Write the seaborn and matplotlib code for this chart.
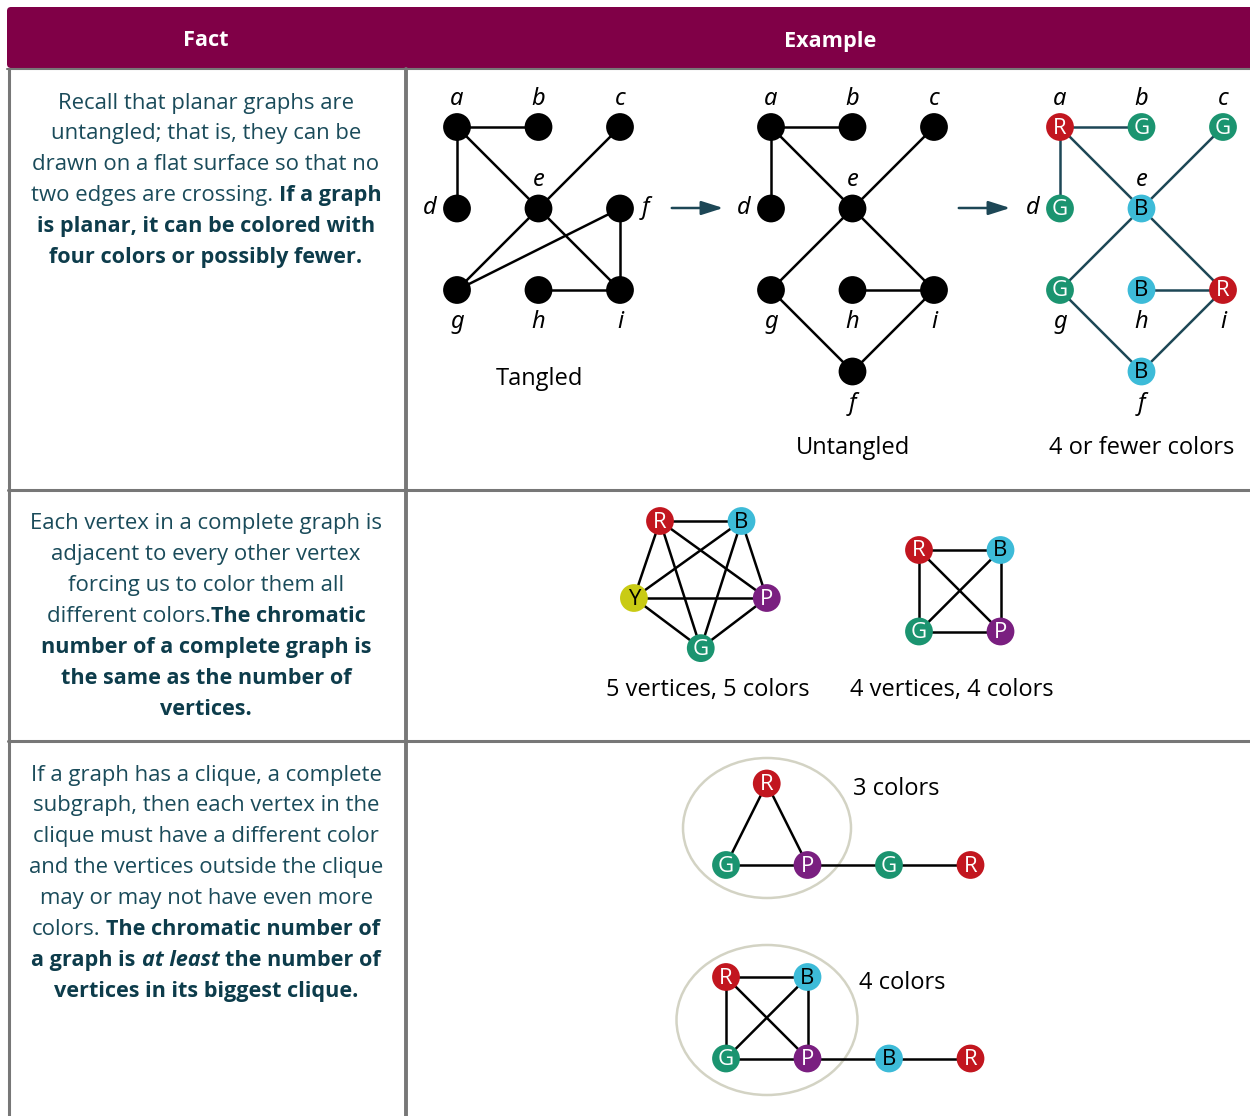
import pandas as pd
import matplotlib.pyplot as plt
import seaborn as sns
from matplotlib.offsetbox import TextArea, HPacker, AnnotationBbox, DrawingArea
from matplotlib.patches import Ellipse, FancyBboxPatch

sns.set_theme(style='white')
plt.rcParams['font.family'] = ['Open Sans', 'Noto Sans', 'DejaVu Sans']

# Kleuren van de knopen
node_colors = {'R': '#c2161f', 'G': '#1b9470', 'B': '#3dbbd8', 'P': '#7a1f80', 'Y': '#c9cb14'}
letter_colors = {'R': 'white', 'G': 'white', 'B': 'black', 'P': 'white', 'Y': 'black'}

# Graaf 1: tangled / untangled / gekleurd (eenheden in rastercellen)
g1_names = ['a', 'b', 'c', 'd', 'e', 'f', 'g', 'h', 'i']
g1_edges = [('a', 'b'), ('a', 'd'), ('a', 'e'), ('e', 'c'), ('e', 'g'),
            ('e', 'i'), ('g', 'f'), ('f', 'i'), ('h', 'i')]
tangled_col = [0, 1, 2, 0, 1, 2, 0, 1, 2]
tangled_row = [0, 0, 0, 1, 1, 1, 2, 2, 2]
untangled_col = [0, 1, 2, 0, 1, 1, 0, 1, 2]
untangled_row = [0, 0, 0, 1, 1, 3, 2, 2, 2]
g1_colors = ['R', 'G', 'G', 'G', 'B', 'B', 'G', 'B', 'R']

# Volledige grafen
k5_colors = ['R', 'B', 'P', 'G', 'Y']
k5_col = [0, 1, 1.31, 0.5, -0.32]
k5_row = [0, 0, 0.945, 1.56, 0.945]
k4_colors = ['R', 'B', 'G', 'P']
k4_col = [0, 1, 0, 1]
k4_row = [0, 0, 1, 1]

# Kliek-voorbeelden
tri_colors = ['R', 'G', 'P', 'G', 'R']
tri_col = [0.5, 0, 1, 2, 3]
tri_row = [-1, 0, 0, 0, 0]
tri_edges = [(0, 1), (0, 2), (1, 2), (2, 3), (3, 4)]
cl4_colors = ['R', 'B', 'G', 'P', 'B', 'R']
cl4_col = [0, 1, 0, 1, 2, 3]
cl4_row = [0, 0, 1, 1, 1, 1]
cl4_edges = [(0, 1), (0, 2), (0, 3), (1, 2), (1, 3), (2, 3), (3, 4), (4, 5)]

# Teksten in de Fact-kolom: (tekst, stijl) per regel
fact1 = [[('Recall that planar graphs are', 'r')],
         [('untangled; that is, they can be', 'r')],
         [('drawn on a flat surface so that no', 'r')],
         [('two edges are crossing.', 'r'), (' ', 'sp'), ('If a graph', 'b')],
         [('is planar, it can be colored with', 'b')],
         [('four colors or possibly fewer.', 'b')]]
fact2 = [[('Each vertex in a complete graph is', 'r')],
         [('adjacent to every other vertex', 'r')],
         [('forcing us to color them all', 'r')],
         [('different colors.', 'r'), ('The chromatic', 'b')],
         [('number of a complete graph is', 'b')],
         [('the same as the number of', 'b')],
         [('vertices.', 'b')]]
fact3 = [[('If a graph has a clique, a complete', 'r')],
         [('subgraph, then each vertex in the', 'r')],
         [('clique must have a different color', 'r')],
         [('and the vertices outside the clique', 'r')],
         [('may or may not have even more', 'r')],
         [('colors.', 'r'), (' ', 'sp'), ('The chromatic number of', 'b')],
         [('a graph is', 'b'), (' ', 'sp'), ('at least', 'bi'), (' ', 'sp'), ('the number of', 'b')],
         [('vertices in its biggest clique.', 'b')]]

# Layout
U = 81.5
NODE_S = 400
TXT = '#1a4b5a'
TXT_B = '#0d3c4b'
GRID = '#777777'
FS = 15.6
CAP = 17

fig = plt.figure(figsize=(12.5, 11.16), dpi=100)
ax = fig.add_axes([0, 0, 1, 1])
ax.set_xlim(0, 1250)
ax.set_ylim(1116, 0)
ax.axis('off')

# Tabel
ax.add_patch(FancyBboxPatch((7, 7), 1260, 61, boxstyle='round,pad=0,rounding_size=4',
                            facecolor='#800047', edgecolor='none'))
ax.text(206, 41, 'Fact', color='white', fontsize=FS, fontweight='bold', ha='center', va='center')
ax.text(830, 41, 'Example', color='white', fontsize=FS, fontweight='bold', ha='center', va='center')
ax.plot([7, 1250], [69, 69], color=GRID, lw=1.5)
ax.plot([8.5, 8.5], [69, 1116], color=GRID, lw=2.2)
ax.plot([406, 406], [69, 1116], color=GRID, lw=2.8)
ax.plot([8, 1250], [489.5, 489.5], color=GRID, lw=2.2)
ax.plot([8, 1250], [740.5, 740.5], color=GRID, lw=2.2)


def styled_line(segs, x, y):
    parts = []
    for s, st in segs:
        if st == 'sp':
            parts.append(DrawingArea(4.2, 1))
            continue
        props = dict(fontsize=FS + 0.3, color=TXT)
        if st in ('b', 'bi'):
            props.update(fontsize=FS, fontweight='bold', color=TXT_B)
        if st == 'bi':
            props.update(fontstyle='italic')
        parts.append(TextArea(s, textprops=props))
    box = HPacker(children=parts, align='baseline', pad=0, sep=0)
    ax.add_artist(AnnotationBbox(box, (x, y), xycoords='data', frameon=False,
                                 box_alignment=(0.5, 0.5), pad=0))


for block, y0 in [(fact1, 103), (fact2, 524), (fact3, 775)]:
    for k, segs in enumerate(block):
        styled_line(segs, 206, y0 + k * 30.9)


def draw_graph(cols, rows, colors, edges, ox, oy, edge_color='black'):
    df = pd.DataFrame({'x': [ox + c * U for c in cols], 'y': [oy + r * U for r in rows],
                       'kleur': colors if colors else ['K'] * len(cols)})
    for i, j in edges:
        ax.plot([df.x[i], df.x[j]], [df.y[i], df.y[j]], color=edge_color, lw=1.8, zorder=1)
    pal = dict(node_colors, K='black')
    sns.scatterplot(data=df, x='x', y='y', hue='kleur', palette=pal, s=NODE_S,
                    linewidth=0, legend=False, ax=ax, zorder=3)
    if colors:
        for _, r in df.iterrows():
            ax.text(r.x, r.y + 1, r.kleur, color=letter_colors[r.kleur], fontsize=16,
                    ha='center', va='center', zorder=4)
    return df


def g1_index_edges():
    idx = {n: k for k, n in enumerate(g1_names)}
    return [(idx[a], idx[b]) for a, b in g1_edges]


label_side = {'a': 'up', 'b': 'up', 'c': 'up', 'd': 'left', 'e': 'up',
              'f': 'right', 'g': 'down', 'h': 'down', 'i': 'down'}
offs = {'up': (0, -28), 'down': (0, 32), 'left': (-27, 0), 'right': (25, 0)}

for cols, rows, cl, ox, ec in [(tangled_col, tangled_row, None, 457, 'black'),
                               (untangled_col, untangled_row, None, 771, 'black'),
                               (untangled_col, untangled_row, g1_colors, 1060, '#1d4756')]:
    df = draw_graph(cols, rows, cl, g1_index_edges(), ox, 127, ec)
    for k, n in enumerate(g1_names):
        side = label_side[n]
        if n == 'f' and cols is not tangled_col:
            side = 'down'
        dx, dy = offs[side]
        ax.text(df.x[k] + dx, df.y[k] + dy, n, fontsize=CAP, fontstyle='italic',
                family=['Noto Sans', 'Open Sans'], color='black', ha='center', va='center')

for x0 in (669, 956):
    ax.annotate('', xy=(x0 + 57, 208), xytext=(x0, 208),
                arrowprops=dict(arrowstyle='-|>,head_length=1.1,head_width=0.35',
                                color='#1d4756', lw=1.8))

ax.text(539, 379, 'Tangled', fontsize=CAP, color='black', ha='center', va='center')
ax.text(853, 448, 'Untangled', fontsize=CAP, color='black', ha='center', va='center')
ax.text(1142, 448, '4 or fewer colors', fontsize=CAP, color='black', ha='center', va='center')

# Volledige grafen
k5_edges = [(i, j) for i in range(5) for j in range(i + 1, 5)]
k4_edges = [(i, j) for i in range(4) for j in range(i + 1, 4)]
draw_graph(k5_col, k5_row, k5_colors, k5_edges, 660, 521)
draw_graph(k4_col, k4_row, k4_colors, k4_edges, 919, 550)
ax.text(708, 690, '5 vertices, 5 colors', fontsize=CAP, color='black', ha='center', va='center')
ax.text(952, 690, '4 vertices, 4 colors', fontsize=CAP, color='black', ha='center', va='center')

# Kliekjes
ax.add_patch(Ellipse((767, 828), 168, 140, facecolor='none', edgecolor='#d3d3c4', lw=1.8, zorder=0))
ax.add_patch(Ellipse((767, 1020), 181, 150, facecolor='none', edgecolor='#d3d3c4', lw=1.8, zorder=0))
draw_graph(tri_col, tri_row, tri_colors, tri_edges, 726, 865)
draw_graph(cl4_col, cl4_row, cl4_colors, cl4_edges, 726, 977)
ax.text(853, 789, '3 colors', fontsize=CAP, color='black', ha='left', va='center')
ax.text(859, 983, '4 colors', fontsize=CAP, color='black', ha='left', va='center')

ax.set_xlim(0, 1250)
ax.set_ylim(1116, 0)
fig.savefig('out.png', dpi=100, facecolor='white')
